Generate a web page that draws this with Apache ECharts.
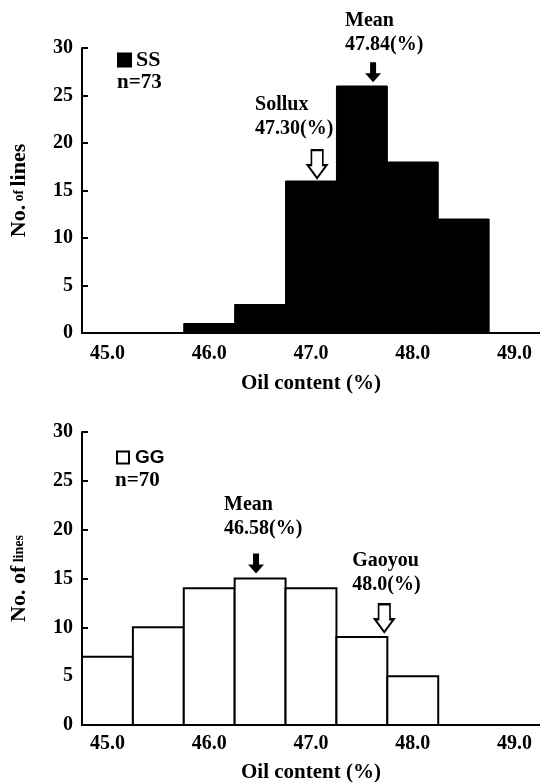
<!DOCTYPE html>
<html>
<head>
<meta charset="utf-8">
<script src="https://cdn.jsdelivr.net/npm/echarts@6/dist/echarts.min.js"></script>
<style>
  html, body { margin: 0; background: #fff; }
  #main { width: 540px; height: 784px; }
</style>
</head>
<body>
<div id="main"></div>
<script>
// bin centres (oil content, %) and number of lines per bin
const binCenters = [45.0, 45.5, 46.0, 46.5, 47.0, 47.5, 48.0, 48.5, 49.0]
const binWidth = 0.5
const ssCounts = [0, 0, 1, 3, 16, 26, 18, 12, 0]
const ggCounts = [7, 10, 14, 15, 14, 9, 5, 0, 0]
const xTickValues = [45, 46, 47, 48, 49]

// arrows: where they point (x value, count) and their caption
const ssArrows = [
  { x: 47.61, y: 26.4, kind: 'solid', text: 'Mean\n47.84(%)' },
  { x: 47.06, y: 16.3, kind: 'hollow', text: 'Sollux\n47.30(%)' }
]
const ggArrows = [
  { x: 46.46, y: 15.5, kind: 'solid', text: 'Mean\n46.58(%)' },
  { x: 47.72, y: 9.5, kind: 'hollow', text: 'Gaoyou\n48.0(%)' }
]
// caption nudges (px): left shift of the text block, gap above the arrow
const ssNudge = [[-28, 5], [-62, 8]]
const ggNudge = [[-32, 13], [-32, 6]]

const serif = '"Liberation Serif", "Times New Roman", serif'

const arrowStyle = {
  solid: {
    symbol: 'path://M5,0 L11,0 L11,11 L16,11 L8,20 L0,11 L5,11 Z',
    size: [16, 20],
    itemStyle: { color: '#000', opacity: 1 }
  },
  hollow: {
    symbol: 'path://M4,0 L16,0 L16,15 L20,15 L10,28 L0,15 L4,15 Z',
    size: [19, 28],
    itemStyle: { color: '#fff', borderColor: '#000', borderWidth: 2, opacity: 1 }
  }
}

const captionText = {
  color: '#000',
  fontFamily: serif,
  fontWeight: 'bold',
  fontSize: 20,
  lineHeight: 24
}

function barItem (params, api) {
  const c = api.value(0)
  const v = api.value(1)
  if (!v) return null
  const tl = api.coord([c - binWidth / 2, v])
  const br = api.coord([c + binWidth / 2, 0])
  return {
    type: 'rect',
    shape: { x: tl[0], y: tl[1], width: br[0] - tl[0], height: br[1] - tl[1] },
    style: api.style()
  }
}

function arrowSeries (arrows, nudge, idx) {
  return {
    type: 'scatter',
    xAxisIndex: idx,
    yAxisIndex: idx,
    silent: true,
    z: 5,
    itemStyle: { opacity: 1 },
    data: arrows.map((a, i) => {
      const s = arrowStyle[a.kind]
      return {
        value: [a.x, a.y],
        symbol: s.symbol,
        symbolSize: s.size,
        symbolOffset: [0, -s.size[1] / 2],
        itemStyle: s.itemStyle,
        label: Object.assign({
          show: true,
          formatter: a.text,
          position: 'top',
          align: 'left',
          distance: nudge[i][1],
          offset: [nudge[i][0], 0]
        }, captionText)
      }
    })
  }
}

function xAxisOf (idx) {
  return {
    gridIndex: idx,
    type: 'value',
    min: 44.75,
    max: 49.25,
    name: 'Oil content (%)',
    nameLocation: 'middle',
    nameGap: idx === 0 ? 40 : 37,
    nameTextStyle: { color: '#000', fontFamily: serif, fontWeight: 'bold', fontSize: 21 },
    axisLine: { lineStyle: { color: '#000', width: 2 } },
    axisTick: { show: false },
    splitLine: { show: false },
    axisLabel: {
      customValues: xTickValues,
      formatter: v => v.toFixed(1),
      color: '#000',
      fontFamily: serif,
      fontWeight: 'bold',
      fontSize: 20,
      margin: idx === 0 ? 11 : 9
    }
  }
}

function yAxisOf (idx, name) {
  return {
    gridIndex: idx,
    type: 'value',
    min: 0,
    max: 30,
    interval: 5,
    name: name,
    nameLocation: 'middle',
    nameRotate: 90,
    nameGap: 52,
    nameTextStyle: {
      color: '#000',
      rich: {
        big: { fontFamily: serif, fontWeight: 'bold', fontSize: 22, color: '#000' },
        small: { fontFamily: serif, fontWeight: 'bold', fontSize: 14, color: '#000' }
      }
    },
    axisLine: { show: true, lineStyle: { color: '#000', width: 2 } },
    axisTick: { show: true, inside: true, length: 6, lineStyle: { color: '#000', width: 2 } },
    splitLine: { show: false },
    axisLabel: {
      color: '#000',
      fontFamily: serif,
      fontWeight: 'bold',
      fontSize: 20,
      margin: 9
    }
  }
}

const chart = echarts.init(document.getElementById('main'))

const option = {
  animation: false,
  backgroundColor: '#fff',
  grid: [
    { left: 80, right: 0, top: 48, height: 285 },
    { left: 80, right: 0, top: 432, height: 294 }
  ],
  legend: [
    {
      data: [{ name: 'SS', itemStyle: { color: '#000' } }],
      left: 112,
      top: 44,
      icon: 'rect',
      itemWidth: 13,
      itemHeight: 13,
      selectedMode: false,
      textStyle: { color: '#000', fontFamily: serif, fontWeight: 'bold', fontSize: 22, padding: [0, 0, 0, 0] }
    },
    {
      data: [{ name: 'GG', itemStyle: { color: '#fff', borderColor: '#000', borderWidth: 2 } }],
      left: 111,
      top: 443,
      icon: 'rect',
      itemWidth: 12,
      itemHeight: 12,
      selectedMode: false,
      textStyle: { color: '#000', fontFamily: '"Liberation Sans", Arial, sans-serif', fontWeight: 'bold', fontSize: 19, padding: [0, 0, 0, 1] }
    }
  ],
  title: [
    { text: 'n=73', left: 112, top: 67, textStyle: { color: '#000', fontFamily: serif, fontWeight: 'bold', fontSize: 21 } },
    { text: 'n=70', left: 110, top: 465, textStyle: { color: '#000', fontFamily: serif, fontWeight: 'bold', fontSize: 21 } }
  ],
  xAxis: [xAxisOf(0), xAxisOf(1)],
  yAxis: [
    yAxisOf(0, '{big|No.} {small|of} {big|lines}'),
    yAxisOf(1, '{big|No. of} {small|lines}')
  ],
  series: [
    {
      name: 'SS',
      type: 'custom',
      xAxisIndex: 0,
      yAxisIndex: 0,
      renderItem: barItem,
      itemStyle: { color: '#000', borderColor: '#000', borderWidth: 1 },
      data: binCenters.map((c, i) => [c, ssCounts[i]])
    },
    {
      name: 'GG',
      type: 'custom',
      xAxisIndex: 1,
      yAxisIndex: 1,
      renderItem: barItem,
      itemStyle: { color: '#fff', borderColor: '#000', borderWidth: 2 },
      data: binCenters.map((c, i) => [c, ggCounts[i]])
    },
    arrowSeries(ssArrows, ssNudge, 0),
    arrowSeries(ggArrows, ggNudge, 1)
  ]
}

chart.setOption(option)
</script>
</body>
</html>
